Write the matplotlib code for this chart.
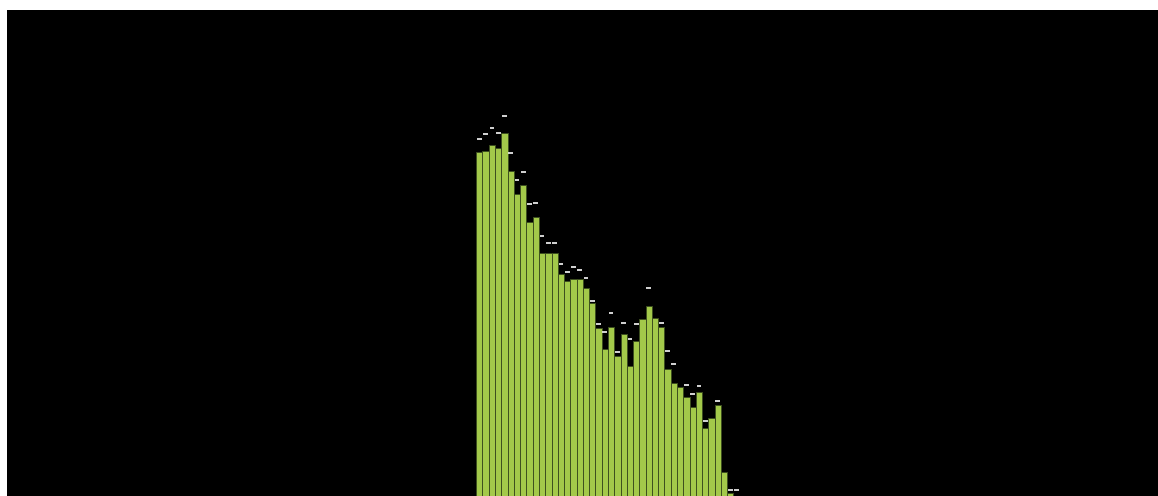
import numpy as np
import matplotlib
matplotlib.use("Agg")
import matplotlib.pyplot as plt

# Bar heights (arbitrary units)
values = [344, 345, 351, 348, 363, 325, 302, 311, 274, 279,
          243, 243, 243, 222, 215, 217, 217, 208, 193, 168,
          147, 169, 140, 162, 130, 155, 177, 190, 178, 169,
          127, 113, 109, 99, 89, 104, 68, 78, 91, 24,
          3, 0]
# Marker (dash) levels above bars; nan where none visible
markers = [357, 362, 368, 363, 380, 343, 316, 324, 292, 293,
           260, 253, 253, 232, 224, 229, 226, 218, 195, 172,
           164, 183, 144, 173, 157, 172, np.nan, 208, np.nan, 173,
           145, 132, np.nan, 111, 102, 110, 75, np.nan, 95, np.nan,
           6, 6]

x = np.arange(len(values))
markers = np.array(markers, dtype=float)

fig = plt.figure(figsize=(11.58, 4.96), dpi=100, facecolor="white")
ax = fig.add_axes([7 / 1158, 0, 1151 / 1158, 486 / 496])
ax.set_facecolor("black")

ax.bar(x, values, width=1.0, color="#a3c94a", edgecolor="#3d4f1f", linewidth=0.7)
ok = ~np.isnan(markers)
ax.hlines(markers[ok], x[ok] - 0.38, x[ok] + 0.38, color="#e6e6e6", linewidth=1.3)

ax.set_xlim(-75.27, 108.15)
ax.set_ylim(0, 486)
ax.set_xticks([])
ax.set_yticks([])
for s in ax.spines.values():
    s.set_visible(False)

fig.savefig("out.png", dpi=100, facecolor="white")
